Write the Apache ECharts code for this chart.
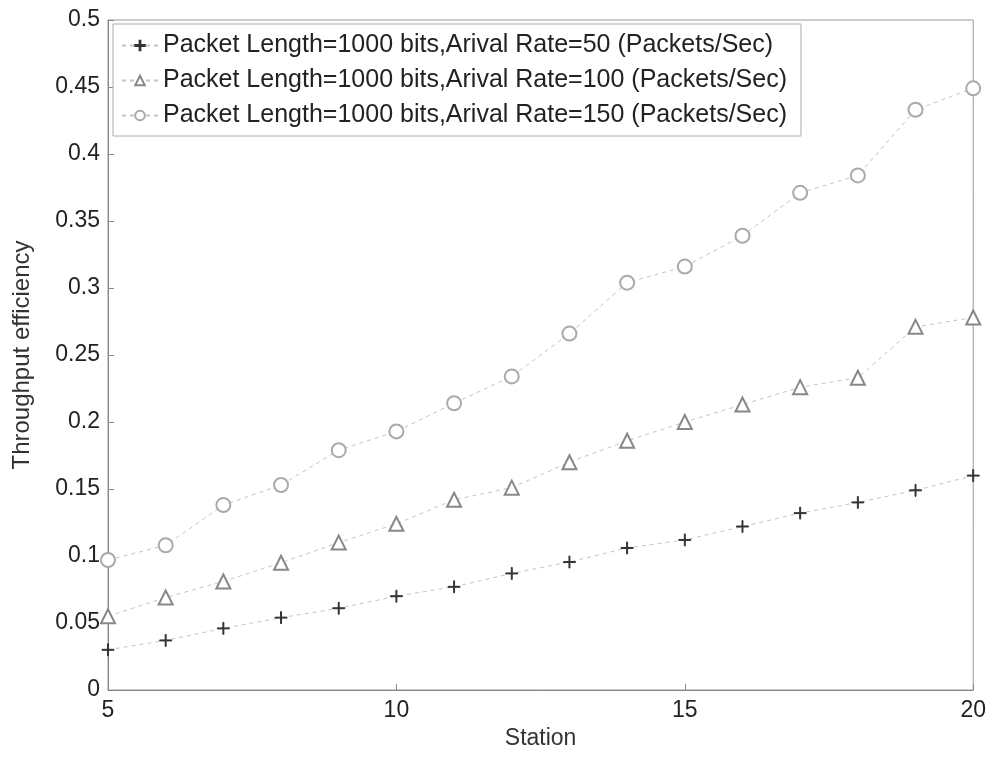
<!DOCTYPE html>
<html><head><meta charset="utf-8">
<script src="https://cdn.jsdelivr.net/npm/echarts@6/dist/echarts.min.js"></script>
<style>html,body{margin:0;padding:0;background:#fff}#c{width:989px;height:762px}</style>
</head><body><div id="c"></div>
<script>
var stations = [5,6,7,8,9,10,11,12,13,14,15,16,17,18,19,20];
var rate50  = [0.030,0.037,0.046,0.054,0.061,0.070,0.077,0.087,0.0955,0.106,0.112,0.122,0.132,0.140,0.149,0.160];
var rate100 = [0.055,0.069,0.081,0.095,0.110,0.124,0.142,0.151,0.170,0.186,0.200,0.213,0.226,0.233,0.271,0.278];
var rate150 = [0.097,0.108,0.138,0.153,0.179,0.193,0.214,0.234,0.266,0.304,0.316,0.339,0.371,0.384,0.433,0.449];
var names = ['Packet Length=1000 bits,Arival Rate=50 (Packets/Sec)',
             'Packet Length=1000 bits,Arival Rate=100 (Packets/Sec)',
             'Packet Length=1000 bits,Arival Rate=150 (Packets/Sec)'];
var yTicks = ['0','0.05','0.1','0.15','0.2','0.25','0.3','0.35','0.4','0.45','0.5'];

function pairs(v){ return stations.map(function(s,i){ return [s, v[i]]; }); }
var plus = 'path://M0,4.6H10V5.4H0Z M4.6,0H5.4V10H4.6Z';
var font = 'Liberation Sans, Arial, sans-serif';
function mk(name, data, symbol, size, color){
  return {name:name, type:'line', data:pairs(data), symbol:symbol, symbolSize:size,
    showSymbol:true,
    itemStyle:{color:color, borderColor:color, borderWidth:1},
    lineStyle:{color:'#c4c4c4', width:1, type:[4,4]}};
}
var chart = echarts.init(document.getElementById('c'));
chart.setOption({
  animation:false,
  backgroundColor:'#fff',
  grid:{left:108, right:14, top:20, bottom:72, show:true, borderColor:'#999', borderWidth:1},
  legend:{
    orient:'vertical', left:113, top:24, itemGap:10, itemWidth:36, itemHeight:12,
    padding:[9,14,8,8], borderColor:'#aaa', borderWidth:1, backgroundColor:'#fff',
    textStyle:{fontFamily:font, fontSize:25, color:'#222'},
    data:names
  },
  xAxis:{type:'value', min:5, max:20, interval:5,
    name:'Station', nameLocation:'middle', nameGap:30,
    nameTextStyle:{fontFamily:font, fontSize:23, color:'#333'},
    axisLine:{lineStyle:{color:'#888'}},
    axisTick:{inside:true, length:6, lineStyle:{color:'#888'}},
    axisLabel:{fontFamily:font, fontSize:23, color:'#222', margin:9},
    splitLine:{show:false}},
  yAxis:{type:'value', min:0, max:0.5, interval:0.05,
    name:'Throughput efficiency', nameLocation:'middle', nameGap:74,
    nameTextStyle:{fontFamily:font, fontSize:24, color:'#333'},
    axisLine:{lineStyle:{color:'#888'}},
    axisTick:{inside:true, length:6, lineStyle:{color:'#888'}},
    axisLabel:{fontFamily:font, fontSize:23, color:'#222', margin:8,
      formatter:function(v){ var i = Math.round(v/0.05); return yTicks[i]; }},
    splitLine:{show:false}},
  series:[
    mk(names[0], rate50, plus, 12, '#333'),
    mk(names[1], rate100, 'emptyTriangle', 14, '#888'),
    mk(names[2], rate150, 'emptyCircle', 14, '#aaa')
  ]
});
</script></body></html>
